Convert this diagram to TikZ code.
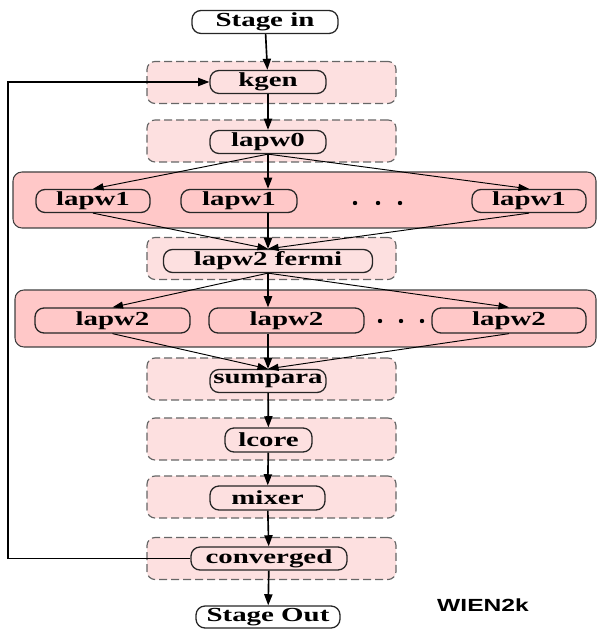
\documentclass[tikz,border=0pt]{standalone}
\usepackage{fontspec}
\newfontfamily\jobfont{Liberation Serif}[FakeStretch=1.45]
\newfontfamily\tagfont{Liberation Sans}[FakeStretch=1.4]
\usetikzlibrary{arrows.meta}
\newlength{\px}\setlength{\px}{0.03cm}
\definecolor{stagepink}{RGB}{253,224,224}
\definecolor{grouppink}{RGB}{255,200,200}

\begin{document}
\begin{tikzpicture}[x=0.03cm, y=-0.03cm,
    job/.style={draw=black!85, line width=1.1pt, rounded corners=9\px,
        minimum height=23\px, inner sep=0pt,
        font=\jobfont\bfseries\fontsize{17}{19}\selectfont},
    stagebox/.style={draw=black!60, fill=stagepink, line width=1pt,
        dash pattern=on 8\px off 4\px, rounded corners=8\px,
        minimum width=249\px, minimum height=42\px},
    groupbox/.style={draw=black!75, fill=grouppink, line width=0.9pt,
        rounded corners=9\px},
    flow/.style={-{Triangle[length=9.5pt,width=7pt]}, line width=1.4pt},
    fan/.style={-{Triangle[length=9pt,width=6pt]}, line width=0.8pt}]
    \useasboundingbox (0,0) rectangle (598,629);

    % Stages (dashed) and parallel groups (solid)
    \node[stagebox] (kgenbox) at (271.5,82.5) {};
    \node[stagebox] (lapw0box) at (271.5,141) {};
    \node[groupbox, minimum width=583\px, minimum height=56\px] (grpone) at (304.5,200) {};
    \node[stagebox] (fermibox) at (271.5,258.5) {};
    \node[groupbox, minimum width=581\px, minimum height=57\px] (grptwo) at (305.5,318.5) {};
    \node[stagebox] (sumbox) at (271.5,379) {};
    \node[stagebox] (lcorebox) at (271.5,439) {};
    \node[stagebox] (mixbox) at (271.5,497) {};
    \node[stagebox] (convbox) at (271.5,558.5) {};

    % Jobs
    \node[job, fill=white, minimum width=146\px] (stagein) at (265,22) {Stage in};
    \node[job, minimum width=116\px] (kgen) at (268,82) {kgen};
    \node[job, minimum width=116\px] (lapw0) at (268,142) {lapw0};
    \node[job, minimum width=114\px] (lone) at (93,201) {lapw1};
    \node[job, minimum width=116\px] (ltwo) at (239,201) {lapw1};
    \node[job, minimum width=114\px] (lthree) at (529,201) {lapw1};
    \node[job, minimum width=209\px] (fermi) at (268,261) {lapw2 fermi};
    \node[job, minimum width=155\px, minimum height=25\px] (mone) at (112.5,320.5) {lapw2};
    \node[job, minimum width=155\px, minimum height=25\px] (mtwo) at (286.5,320.5) {lapw2};
    \node[job, minimum width=154\px, minimum height=25\px] (mthree) at (509,320.5) {lapw2};
    \node[job, minimum width=116\px] (sumpara) at (268,381) {sumpara};
    \node[job, minimum width=87\px, minimum height=24\px] (lcore) at (268.5,440) {lcore};
    \node[job, minimum width=115\px, minimum height=24\px] (mixer) at (267.5,498) {mixer};
    \node[job, minimum width=156\px] (conv) at (269,558.5) {converged};
    \node[job, fill=white, minimum width=144\px, minimum height=22\px] (stageout) at (268,617) {Stage Out};

    \node[font=\tagfont\bfseries\fontsize{15}{17}\selectfont] (tag) at (483,605) {WIEN2k};

    % Dots between the parallel jobs
    \foreach \x in {355,378,400}
        \fill (\x,203) circle (2.2\px);
    \foreach \x in {380,401,422}
        \fill (\x,321) circle (2.2\px);

    % Main chain
    \draw[flow] (stagein) -- (kgen);
    \draw[flow] (kgen) -- (lapw0);
    \draw[flow] (lapw0.south) -- (lapw0.south |- ltwo.north);
    \draw[fan] (lapw0.south) -- (lone.north);
    \draw[fan] (lapw0.south) -- (lthree.north);
    \draw[fan] (lone.south) -- (fermi.north);
    \draw[flow] (fermi.north |- ltwo.south) -- (fermi.north);
    \draw[fan] (lthree.south) -- (fermi.north);
    \draw[flow] (fermi.south) -- (fermi.south |- mtwo.north);
    \draw[fan] (fermi.south) -- (mone.north);
    \draw[fan] (fermi.south) -- (mthree.north);
    \draw[fan] (mone.south) -- (sumpara.north);
    \draw[flow] (sumpara.north |- mtwo.south) -- (sumpara.north);
    \draw[fan] (mthree.south) -- (sumpara.north);
    \draw[flow] (sumpara) -- (lcore);
    \draw[flow] (lcore) -- (mixer);
    \draw[flow] (mixer) -- (conv);
    \draw[flow] (conv) -- (stageout);

    % Loop back when not converged
    \coordinate (back) at (8,0);
    \draw[flow, line width=1pt] (conv.west) -- (back |- conv.west) |- (kgen.west);
\end{tikzpicture}
\end{document}
